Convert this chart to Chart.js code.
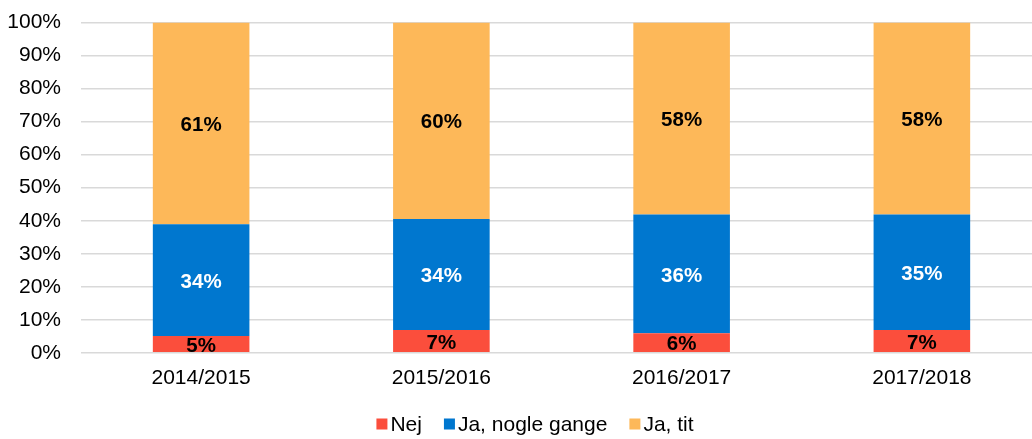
<!DOCTYPE html>
<html lang="da">
<head>
<meta charset="utf-8">
<title>Svar fordelt på skoleår</title>
<script src="https://cdn.jsdelivr.net/npm/chart.js@4.4.1/dist/chart.umd.min.js"></script>
<style>
  html, body { margin: 0; padding: 0; background: #fff; overflow: hidden; }
  .lienzo { width: 1070px; height: 449px; margin-top: -10px; position: relative; }
</style>
</head>
<body>
<div class="lienzo"><canvas id="grafica"></canvas></div>
<script>
// Datos (porcentajes por skoleår)
const categorias = ['2014/2015', '2015/2016', '2016/2017', '2017/2018'];
const nej = [5.1, 6.9, 5.9, 6.9];
const jaNogleGange = [33.8, 33.6, 36.0, 35.0];
const jaTit = [61.1, 59.5, 58.1, 58.1];
const ticksY = [0, 10, 20, 30, 40, 50, 60, 70, 80, 90, 100];

const fuente = '"Liberation Sans", Arial, sans-serif';

// Etiquetas dentro de cada segmento
const etiquetasPlugin = {
  id: 'etiquetas',
  afterDatasetsDraw(chart) {
    const ctx = chart.ctx;
    ctx.save();
    ctx.font = 'bold 20.5px ' + fuente;
    ctx.textAlign = 'center';
    ctx.textBaseline = 'middle';
    chart.data.datasets.forEach((ds, i) => {
      const meta = chart.getDatasetMeta(i);
      meta.data.forEach((barra, j) => {
        const centro = barra.getCenterPoint();
        ctx.fillStyle = ds.colorEtiqueta;
        ctx.fillText(Math.round(ds.data[j]) + '%', centro.x, centro.y + 2);
      });
    });
    ctx.restore();
  }
};

// Leyenda dibujada a mano (cuadro pequeño pegado al texto)
const leyendaPlugin = {
  id: 'leyenda',
  afterDraw(chart) {
    const ctx = chart.ctx;
    ctx.save();
    ctx.font = '21px ' + fuente;
    ctx.textBaseline = 'middle';
    const caja = 11, sep = 3, hueco = 22;
    const items = chart.data.datasets.map(ds => ({
      texto: ds.label,
      color: ds.backgroundColor,
      ancho: ctx.measureText(ds.label).width
    }));
    const total = items.reduce((s, it) => s + caja + sep + it.ancho, 0) + hueco * (items.length - 1);
    let x = (chart.width - total) / 2;
    const y = 434;
    items.forEach(it => {
      ctx.fillStyle = it.color;
      ctx.fillRect(x, y - caja / 2, caja, caja);
      x += caja + sep;
      ctx.fillStyle = '#000';
      ctx.fillText(it.texto, x, y + 1);
      x += it.ancho + hueco;
    });
    ctx.restore();
  }
};

new Chart(document.getElementById('grafica'), {
  type: 'bar',
  data: {
    labels: categorias,
    datasets: [
      { label: 'Nej', data: nej, backgroundColor: '#FB4E3C', colorEtiqueta: '#000' },
      { label: 'Ja, nogle gange', data: jaNogleGange, backgroundColor: '#0077CF', colorEtiqueta: '#fff' },
      { label: 'Ja, tit', data: jaTit, backgroundColor: '#FDB859', colorEtiqueta: '#000' }
    ]
  },
  options: {
    responsive: true,
    maintainAspectRatio: false,
    animation: false,
    barPercentage: 0.402,
    categoryPercentage: 1,
    layout: { padding: { left: 0, right: 28, top: 1, bottom: 43 } },
    plugins: {
      legend: { display: false },
      tooltip: { enabled: false }
    },
    scales: {
      x: {
        stacked: true,
        grid: { display: false },
        border: { display: false },
        ticks: { color: '#000', font: { family: fuente, size: 21 }, padding: 5 }
      },
      y: {
        stacked: true,
        min: 0,
        max: 100,
        afterBuildTicks(scale) {
          scale.ticks = ticksY.map(v => ({ value: v }));
        },
        afterFit(scale) { scale.width = 81; },
        grid: { color: '#D9D9D9', lineWidth: 1.5, drawTicks: false },
        border: { display: false },
        ticks: {
          color: '#000',
          font: { family: fuente, size: 21 },
          padding: 20,
          callback: v => v + '%'
        }
      }
    }
  },
  plugins: [etiquetasPlugin, leyendaPlugin]
});
</script>
</body>
</html>
